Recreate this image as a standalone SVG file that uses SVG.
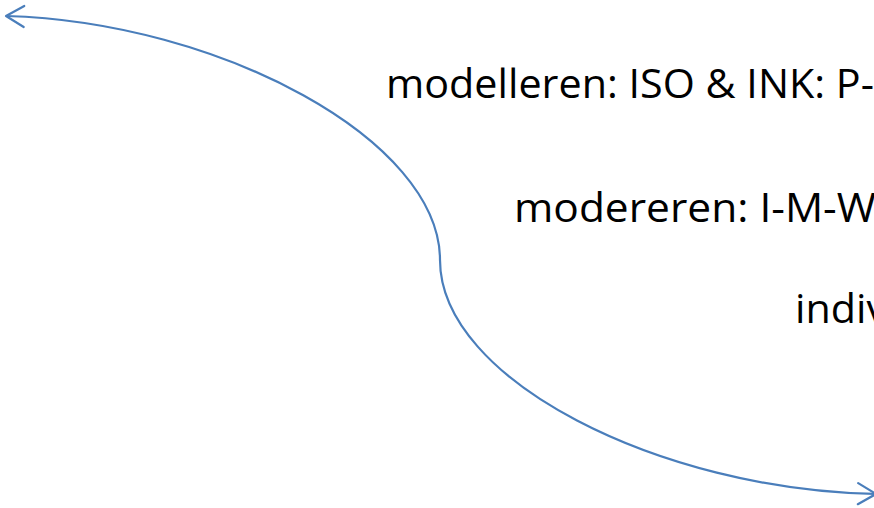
<svg xmlns="http://www.w3.org/2000/svg" width="874" height="508" viewBox="0 0 874 508">
  <style>
    .lbl { font-family: "Open Sans", "Liberation Sans", sans-serif; font-size: 41px; fill: #000000; }
    .conn { fill: none; stroke: #4a7ebb; stroke-width: 2.2; }
  </style>
  <defs>
    <marker id="arrow" markerUnits="userSpaceOnUse" markerWidth="30" markerHeight="30" viewBox="-20 -15 24 30" refX="0" refY="0" orient="auto-start-reverse" overflow="visible">
      <path d="M-18,-10.5 L0,0 L-18,10.5" fill="none" stroke="#4a7ebb" stroke-width="2.2" stroke-linecap="round" stroke-linejoin="round"/>
    </marker>
  </defs>
  <rect width="874" height="508" fill="#ffffff"/>
  <g id="connectors">
    <path class="conn" d="M6,16 C220,22 440,140 440,260 C440,380 660,490 876,494" marker-start="url(#arrow)" marker-end="url(#arrow)"/>
  </g>
  <g id="label-modelleren">
    <text class="lbl" x="386" y="98" textLength="488" lengthAdjust="spacingAndGlyphs">modelleren: ISO &amp; INK: P-</text>
  </g>
  <g id="label-modereren">
    <text class="lbl" x="514" y="222" textLength="362" lengthAdjust="spacingAndGlyphs">modereren: I-M-W</text>
  </g>
  <g id="label-indiv">
    <text class="lbl" x="795" y="323" textLength="92" lengthAdjust="spacingAndGlyphs">indiv</text>
  </g>
</svg>
